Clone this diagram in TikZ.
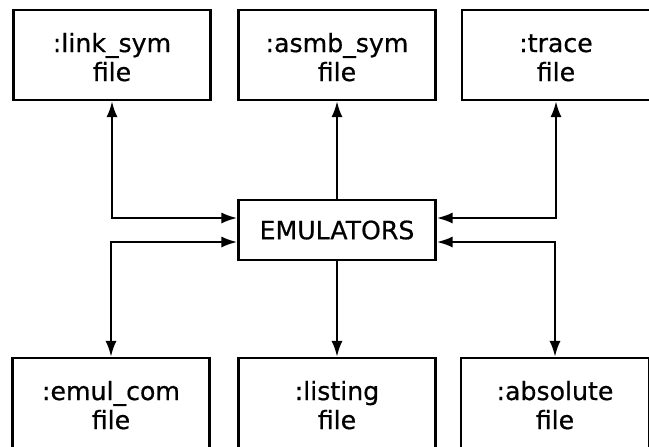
\documentclass[tikz,border=0pt]{standalone}
\usepackage{fontspec}
\setmainfont[FakeBold=0.6]{DejaVu Sans}
\usepackage{tikz}
\usetikzlibrary{arrows.meta}

\tikzset{
  filebox/.style={draw, line width=1.2pt, minimum width=98.5pt, minimum height=45pt,
    inner sep=0pt, align=center, text height=26pt, text depth=0pt,
    font=\fontsize{12.6}{14.5}\selectfont},
  emubox/.style={filebox, minimum height=30pt, text height=9.2pt},
  flow/.style={line width=1.2pt, >={Latex[length=8pt,width=5.6pt]}}
}

\begin{document}
\begin{tikzpicture}[x=0.5pt, y=-0.5pt]
  \useasboundingbox (0,0) rectangle (649,446);
  \clip (0,0) rectangle (649,446);

  % file boxes, top row
  \node[filebox] (linksym) at (112,55) {:link\_sym\\file};
  \node[filebox] (asmbsym) at (337,55) {:asmb\_sym\\file};
  \node[filebox, minimum width=94pt] (trace) at (556,55) {:trace\\file};

  % the emulators
  \node[emubox] (emu) at (337,230) {EMULATORS};

  % file boxes, bottom row
  \node[filebox] (emulcom) at (111,403) {:emul\_com\\file};
  \node[filebox] (listing) at (337,403) {:listing\\file};
  \node[filebox, minimum width=94pt] (absolute) at (555,403) {:absolute\\file};

  \draw[flow, <->] (linksym.south) |- ([yshift=6pt]emu.west);
  \draw[flow, ->] (emu) -- (asmbsym);
  \draw[flow, <->] (trace.south) |- ([yshift=6pt]emu.east);
  \draw[flow, <->] ([yshift=-6pt]emu.west) -| (emulcom.north);
  \draw[flow, ->] (emu) -- (listing);
  \draw[flow, <->] ([yshift=-6pt]emu.east) -| (absolute.north);
\end{tikzpicture}
\end{document}
